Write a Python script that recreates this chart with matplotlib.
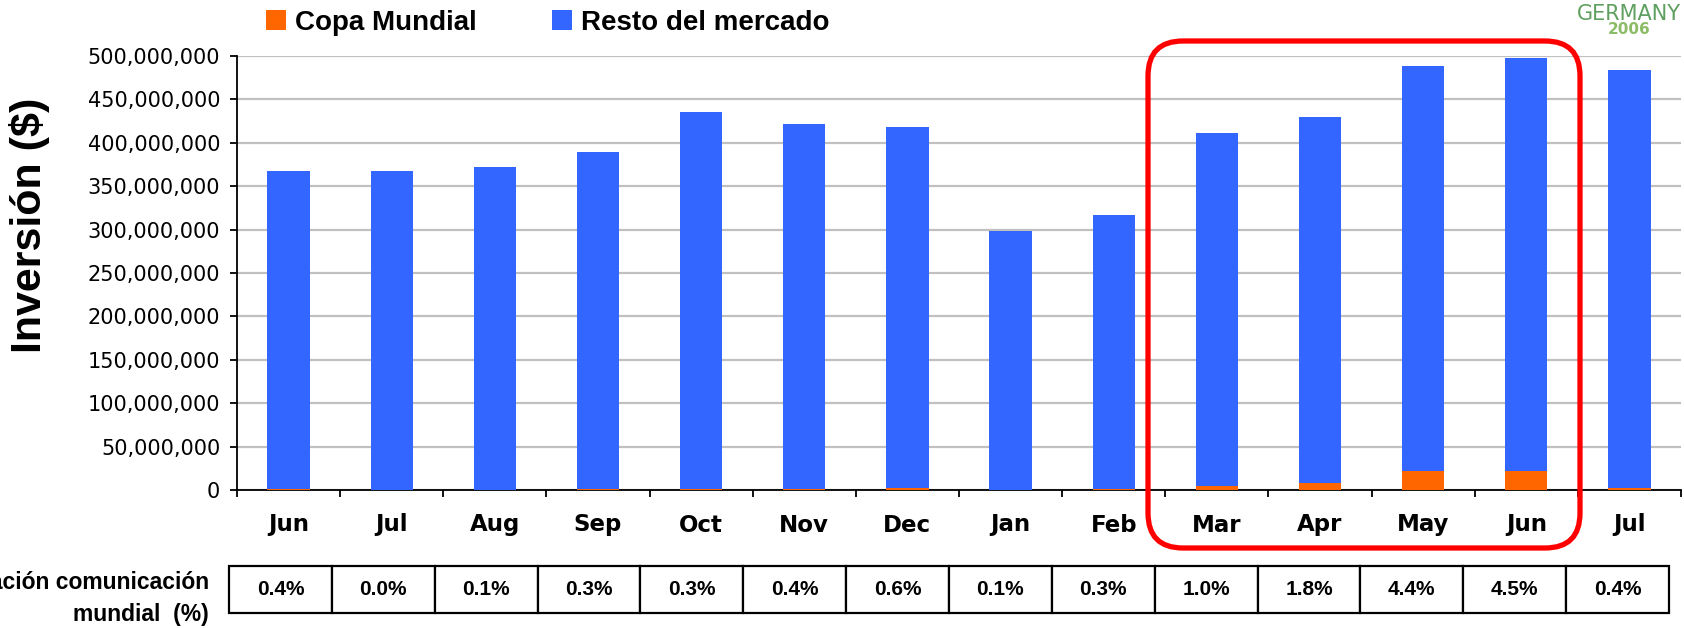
import matplotlib
matplotlib.use('Agg')
import matplotlib.pyplot as plt
import matplotlib.transforms as mtransforms
from matplotlib.patches import FancyBboxPatch
from matplotlib.ticker import FuncFormatter, FixedLocator
import numpy as np

# data (dollars)
months = ['Jun', 'Jul', 'Aug', 'Sep', 'Oct', 'Nov', 'Dec', 'Jan', 'Feb',
          'Mar', 'Apr', 'May', 'Jun', 'Jul']
copa = np.array([1.5, 0.0, 0.4, 1.2, 1.3, 1.7, 2.5, 0.3, 1.0,
                 4.1, 7.7, 21.5, 22.4, 1.9]) * 1e6
resto = np.array([366.5, 368.0, 371.6, 387.8, 434.7, 420.3, 415.5, 297.7, 316.0,
                  407.4, 422.3, 466.5, 475.6, 482.1]) * 1e6
pct = ['0.4%', '0.0%', '0.1%', '0.3%', '0.3%', '0.4%', '0.6%', '0.1%', '0.3%',
       '1.0%', '1.8%', '4.4%', '4.5%', '0.4%']

ORANGE = '#FF6600'
BLUE = '#3366FF'
W, H = 1684, 628

fig = plt.figure(figsize=(W / 100, H / 100), dpi=100)
fig.patch.set_facecolor('white')

# MAIN BAR AXES
ax = fig.add_axes([237 / W, (H - 490) / H, 1444 / W, 434 / H])
x = np.arange(len(months))
b1 = ax.bar(x, copa, width=0.41, color=ORANGE, label='Copa Mundial', zorder=3)
b2 = ax.bar(x, resto, width=0.41, bottom=copa, color=BLUE, label='Resto del mercado', zorder=3)

ax.set_xlim(-0.5, len(months) - 0.5)
ax.set_ylim(0, 500e6)
ax.set_yticks(np.arange(0, 500e6 + 1, 50e6))
ax.yaxis.set_major_formatter(FuncFormatter(lambda v, p: '{:,.0f}'.format(v)))
ax.grid(axis='y', color='#C0C0C0', linewidth=1.6, zorder=0)
ax.set_axisbelow(True)

for s in ['top', 'right']:
    ax.spines[s].set_visible(False)
for s in ['left', 'bottom']:
    ax.spines[s].set_linewidth(1.3)

ax.xaxis.set_major_locator(FixedLocator(np.arange(-0.5, len(months), 1.0)))
ax.set_xticklabels([])
ax.tick_params(axis='x', which='major', length=5, width=1.3, direction='out')
ax.tick_params(axis='y', length=5, width=1.3, direction='out', pad=7, labelsize=15)
for lab in ax.get_yticklabels():
    lab.set_family('DejaVu Sans')

# month labels below the axis
trans = mtransforms.blended_transform_factory(ax.transData, fig.transFigure)
for i, m in enumerate(months):
    ax.text(x[i], 1 - 525 / H, m, transform=trans, ha='center', va='center',
            fontsize=16.5, fontweight='bold', family='DejaVu Sans')

# y label
fig.text(30 / W, 1 - 225 / H, 'Inversión ($)', rotation=90, ha='center', va='center',
         fontsize=31, fontweight='bold', family='Liberation Sans')

# LEGEND
fig.legend(handles=[b1, b2], labels=['Copa Mundial', 'Resto del mercado'],
           loc='center left', bbox_to_anchor=(266 / W, 1 - 23 / H), ncol=2,
           frameon=False, borderpad=0, borderaxespad=0, handlelength=0.72,
           handleheight=0.72, handletextpad=0.32, columnspacing=2.7,
           prop={'family': 'Liberation Sans', 'weight': 'bold', 'size': 20})

# TABLE ROW
ax2 = fig.add_axes([229 / W, (H - 613) / H, 1440 / W, 47 / H])
ax2.axis('off')
tbl = ax2.table(cellText=[pct], cellLoc='center', bbox=[0, 0, 1, 1])
tbl.auto_set_font_size(False)
for key, cell in tbl.get_celld().items():
    cell.set_linewidth(1.6)
    cell.set_edgecolor('black')
    cell.get_text().set_fontsize(15)
    cell.get_text().set_fontweight('bold')
    cell.get_text().set_family('Liberation Sans')

# row label (cut off at the left edge, as in the original)
fig.text(209 / W, 1 - 582 / H, 'Participación comunicación', ha='right', va='center',
         fontsize=16.5, fontweight='bold', family='Liberation Sans')
fig.text(209 / W, 1 - 614 / H, 'mundial  (%)', ha='right', va='center',
         fontsize=16.5, fontweight='bold', family='Liberation Sans')

# OVERLAY: red box + logo
ov = fig.add_axes([0, 0, 1, 1], zorder=5)
ov.set_xlim(0, W)
ov.set_ylim(H, 0)
ov.axis('off')
ov.patch.set_alpha(0)
box = FancyBboxPatch((1148, 41), 432, 507, boxstyle='round,pad=0,rounding_size=35',
                     fill=False, edgecolor='#FF0000', linewidth=3.8)
ov.add_patch(box)
ov.text(1629, 14, 'GERMANY', ha='center', va='center', fontsize=15,
        color='#5f9f5f', family='DejaVu Sans')
ov.text(1629, 30, '2006', ha='center', va='center', fontsize=11,
        color='#8cbd66', family='DejaVu Sans', fontweight='bold')

fig.savefig('out.png', dpi=100, facecolor='white')
